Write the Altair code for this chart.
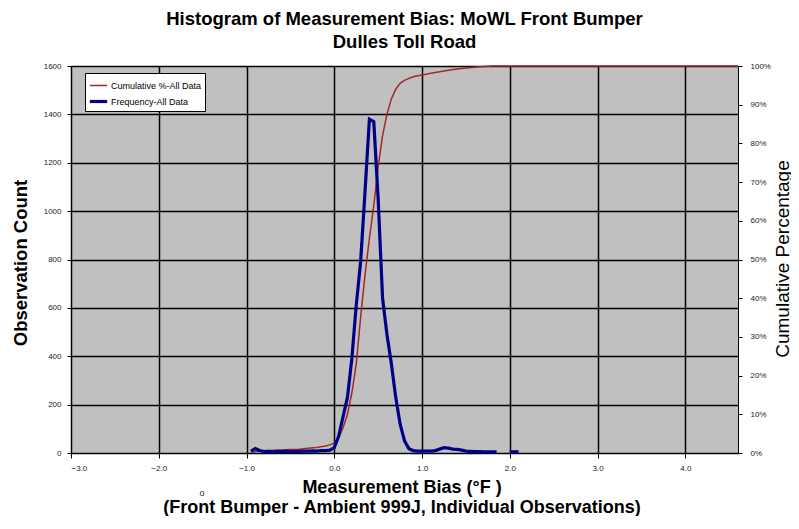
import altair as alt
import pandas as pd

# ---- data ----
freq_bias = [-0.95, -0.9, -0.85, -0.8, -0.75, -0.7, -0.65, -0.6, -0.55, -0.5,
             -0.45, -0.4, -0.35, -0.3, -0.25, -0.2, -0.15, -0.1, -0.05, 0.0,
             0.05, 0.1, 0.15, 0.2, 0.25, 0.3, 0.35, 0.4, 0.45, 0.5,
             0.55, 0.6, 0.65, 0.7, 0.75, 0.8, 0.85, 0.9, 0.95, 1.0,
             1.05, 1.1, 1.15, 1.2, 1.25, 1.3, 1.35, 1.4, 1.45, 1.5,
             1.55, 1.6, 1.65, 1.7, 1.75, 1.8, 1.85]
freq_count = [8, 18, 10, 6, 7, 5, 7, 6, 8, 6,
              7, 7, 8, 8, 9, 8, 10, 10, 12, 22,
              70, 150, 230, 390, 610, 790, 1080, 1380, 1370, 1050,
              640, 490, 370, 230, 120, 50, 18, 10, 8, 8,
              8, 8, 10, 16, 22, 20, 16, 15, 12, 8,
              7, 6, 6, 5, 5, 5, 5]
tail_bias = [2.0, 2.05, 2.1]
tail_count = [5, 5, 5]

cum_bias = [-0.95, -0.9, -0.85, -0.8, -0.7, -0.6, -0.5, -0.4, -0.3, -0.2,
            -0.15, -0.1, -0.05, 0.0, 0.05, 0.1, 0.15, 0.2, 0.25, 0.3,
            0.35, 0.4, 0.45, 0.5, 0.55, 0.6, 0.65, 0.7, 0.75, 0.8,
            0.85, 0.9, 0.95, 1.0, 1.1, 1.2, 1.3, 1.4, 1.5, 1.6,
            1.7, 1.8, 2.0, 3.0, 4.0, 4.6]
cum_pct = [0.002, 0.004, 0.005, 0.006, 0.007, 0.008, 0.009, 0.010, 0.012, 0.014,
           0.016, 0.018, 0.021, 0.026, 0.04, 0.065, 0.10, 0.155, 0.23, 0.35,
           0.46, 0.555, 0.64, 0.74, 0.82, 0.875, 0.915, 0.94, 0.955, 0.963,
           0.968, 0.972, 0.975, 0.977, 0.981, 0.985, 0.989, 0.992, 0.995, 0.997,
           0.999, 1.0, 1.0, 1.0, 1.0, 1.0]

x_ticks = [-3, -2, -1, 0, 1, 2, 3, 4]
count_ticks = [0, 200, 400, 600, 800, 1000, 1200, 1400, 1600]
pct_ticks = [0, 0.1, 0.2, 0.3, 0.4, 0.5, 0.6, 0.7, 0.8, 0.9, 1.0]

SER_CUM = "Cumulative %-All Data"
SER_FREQ = "Frequency-All Data"

freq_df = pd.DataFrame({
    "bias": freq_bias + tail_bias,
    "count": freq_count + tail_count,
    "seg": ["a"] * len(freq_bias) + ["b"] * len(tail_bias),
    "series": SER_FREQ,
})
cum_df = pd.DataFrame({"bias": cum_bias, "pct": cum_pct, "series": SER_CUM})

FONT = "Liberation Sans"
W, H = 667, 387

legend = alt.Legend(title=None, orient="none", legendX=14, legendY=7,
                    fillColor="white", strokeColor="black", padding=3,
                    symbolType="stroke", symbolSize=300, labelFontSize=9,
                    labelFont=FONT, labelColor="black", rowPadding=0,
                    labelOffset=2)

color = alt.Color("series:N", scale=alt.Scale(domain=[SER_CUM, SER_FREQ],
                                              range=["#a3262a", "#000088"]),
                  legend=legend)
swidth = alt.StrokeWidth("series:N", scale=alt.Scale(domain=[SER_CUM, SER_FREQ],
                                                     range=[1.5, 3.2]),
                         legend=legend)

x_scale = alt.Scale(domain=[-3, 4.6], nice=False, zero=False)
x_axis = alt.Axis(values=x_ticks, format=".1f", grid=True,
                  gridColor="black", gridWidth=1.5, tickSize=5,
                  tickColor="black", domainColor="black",
                  labelFontSize=8, labelFont=FONT, labelColor="#222",
                  labelPadding=6,
                  title=["Measurement Bias  (°F )",
                         "(Front Bumper - Ambient 999J, Individual Observations)"],
                  titleFont=FONT, titleFontSize=18,
                  titleFontWeight="bold", titleColor="black",
                  titleLineHeight=20, titleBaseline="top",
                  titleX=W / 2 - 3, titleY=25)

cum = alt.Chart(cum_df).mark_line().encode(
    x=alt.X("bias:Q", scale=x_scale, axis=x_axis),
    y=alt.Y("pct:Q", scale=alt.Scale(domain=[0, 1], nice=False),
            axis=alt.Axis(orient="right", values=pct_ticks, format=".0%",
                          grid=False, tickSize=4, tickColor="black",
                          domainColor="black", labelFontSize=8, labelFont=FONT,
                          labelColor="#222", labelPadding=8,
                          title="Cumulative Percentage", titleFont=FONT,
                          titleFontSize=19, titleFontWeight="normal",
                          titleColor="black", titleAngle=270, titleAlign="center",
                          titleBaseline="middle", titleX=44, titleY=H / 2 - 1)),
    color=color,
    strokeWidth=swidth,
)

freq = alt.Chart(freq_df).mark_line().encode(
    x=alt.X("bias:Q", scale=x_scale, axis=x_axis),
    y=alt.Y("count:Q", scale=alt.Scale(domain=[0, 1600], nice=False),
            axis=alt.Axis(orient="left", values=count_ticks, format="d",
                          grid=True, gridColor="black", gridWidth=1.5,
                          tickSize=4, tickColor="black", domainColor="black",
                          labelFontSize=8, labelFont=FONT, labelColor="#222",
                          labelPadding=6,
                          title="Observation Count", titleFont=FONT,
                          titleFontSize=18.5, titleFontWeight="bold",
                          titleColor="black", titleAngle=270, titleAlign="center",
                          titleBaseline="middle", titleX=-51, titleY=H / 2 + 3)),
    detail="seg:N",
    color=color,
    strokeWidth=swidth,
)

stray = alt.Chart(pd.DataFrame({"t": ["o"]})).mark_text(
    font=FONT, fontSize=9, color="#222"
).encode(text="t:N", x=alt.value(131), y=alt.value(427))

chart = alt.layer(cum, freq, stray).resolve_scale(y="independent").properties(
    width=W, height=H,
    autosize=alt.AutoSizeParams(type="none"),
    padding={"left": 63, "top": 58, "right": 53, "bottom": 63},
    title=alt.TitleParams(
        text=["Histogram of Measurement Bias: MoWL Front Bumper", "Dulles Toll Road"],
        font=FONT, fontSize=18.5, fontWeight="bold", color="black",
        anchor="middle", lineHeight=23, offset=11),
).configure_view(fill="#c0c0c0", stroke=None)

chart.save("out.html", embed_options={"renderer": "svg", "actions": False})
